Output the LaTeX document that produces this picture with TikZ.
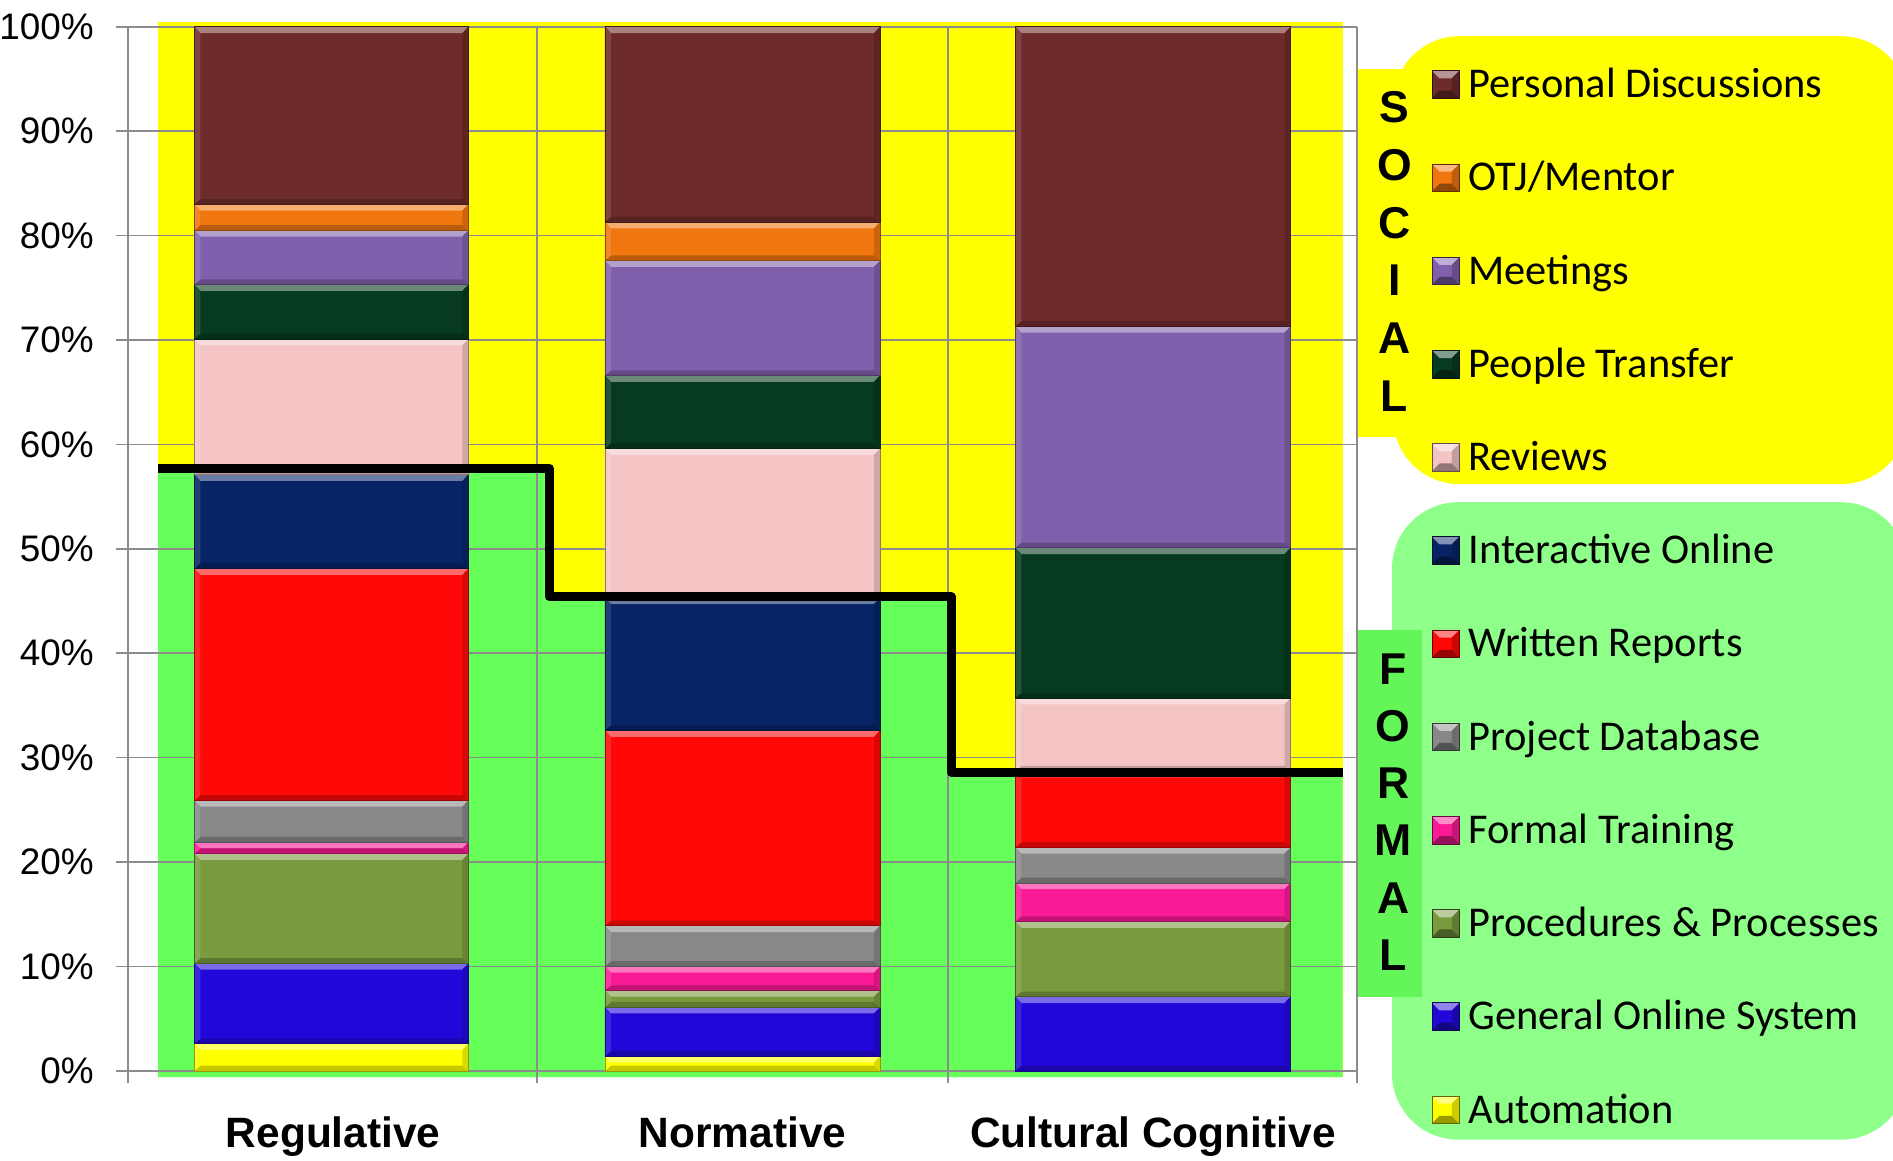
\documentclass[tikz,border=0pt]{standalone}
\usepackage{fontspec}
\setmainfont{Liberation Sans}
\newfontfamily\calfont{Carlito}
\usetikzlibrary{calc}
\definecolor{persdisc}{RGB}{110,43,43}
\definecolor{otjment}{RGB}{240,118,16}
\definecolor{meetings}{RGB}{128,96,172}
\definecolor{peoptrans}{RGB}{7,59,32}
\definecolor{reviews}{RGB}{244,196,196}
\definecolor{interonl}{RGB}{6,36,102}
\definecolor{writrep}{RGB}{255,8,8}
\definecolor{projdb}{RGB}{136,136,136}
\definecolor{formtrain}{RGB}{250,26,150}
\definecolor{procproc}{RGB}{122,154,62}
\definecolor{genonl}{RGB}{34,8,216}
\definecolor{automat}{RGB}{255,255,0}
\definecolor{plotyellow}{RGB}{255,255,0}
\definecolor{plotgreen}{RGB}{102,255,90}
\definecolor{leggreen}{RGB}{142,255,136}
\definecolor{labgreen}{RGB}{100,245,88}
\definecolor{gridgray}{RGB}{140,140,140}
% bevelled bar segment: x0, x1, bottom, top, colour
\newcommand{\barseg}[5]{%
  \fill[#5] (#1,#3) rectangle (#2,#4);
  \fill[#5!60!white] (#1,#4) -- (#2,#4) -- ++(-5,-0.6) -- ++({#1-#2+10},0) -- cycle;
  \fill[#5!78!black] (#1,#3) -- (#2,#3) -- ++(-5,0.5) -- ++({#1-#2+10},0) -- cycle;
  \fill[#5!88!white] (#1,#3) -- (#1,#4) -- ++(5,-0.6) -- ({#1+5},{#3+0.5}) -- cycle;
  \fill[#5!85!black] (#2,#3) -- (#2,#4) -- ++(-5,-0.6) -- ({#2-5},{#3+0.5}) -- cycle;
  \draw[#5!60!black, line width=0.3pt] (#1,#3) rectangle (#2,#4);
}
% bevelled legend key: centre x, centre y, colour
\newcommand{\legmark}[3]{%
  \fill[#3] ({#1-11.5},{#2-11.5}) rectangle ({#1+11.5},{#2+11.5});
  \fill[#3!50!white] ({#1-11.5},{#2+11.5}) -- ({#1+11.5},{#2+11.5}) -- ({#1+5},{#2+5}) -- ({#1-5},{#2+5}) -- cycle;
  \fill[#3!60!black] ({#1-11.5},{#2-11.5}) -- ({#1+11.5},{#2-11.5}) -- ({#1+5},{#2-5}) -- ({#1-5},{#2-5}) -- cycle;
  \fill[#3!80!black] ({#1+11.5},{#2-11.5}) -- ({#1+11.5},{#2+11.5}) -- ({#1+5},{#2+5}) -- ({#1+5},{#2-5}) -- cycle;
  \draw[#3!40!black, line width=0.3pt] ({#1-11.5},{#2-11.5}) rectangle ({#1+11.5},{#2+11.5});
}

\begin{document}
\begin{tikzpicture}[
    x=0.02cm, y=0.02cm,
    gridline/.style={draw=gridgray, line width=0.8pt},
    stepline/.style={draw=black, line width=4.3pt, line join=round},
    ticklabel/.style={anchor=east, inner sep=0pt, font=\fontsize{17.4}{20}\selectfont},
    catlabel/.style={anchor=base, inner sep=0pt, font=\bfseries\fontsize{20}{24}\selectfont},
    legtext/.style={anchor=base west, inner sep=0pt, font=\calfont\fontsize{20}{24}\selectfont},
    vlabel/.style={inner sep=0pt, font=\bfseries\fontsize{21}{24}\selectfont},
    legbox/.style={rounded corners=1.1cm}
]
    \useasboundingbox (0,0) rectangle (1568,961);
    \fill[white] (0,0) rectangle (1568,961);
    \clip (0,0) rectangle (1568,961);

    % plot area, y in percent
    \begin{scope}[yshift=1.48cm, y=0.173cm]
        \fill[plotyellow] (131,-0.6) rectangle (1112,100.5);
        \fill[plotgreen] (131,-0.6) -- (131,57.7) -- (455,57.7) -- (455,45.4) -- (788,45.4)
            -- (788,28.6) -- (1112,28.6) -- (1112,-0.6) -- cycle;

        \foreach \p in {0,10,...,100}{
            \draw[gridline] (96,\p) -- (1124,\p);
            \node[ticklabel, name=tick\p] at(78,\p) {\p\%};
        }
        \foreach \x in {106,445,785,1124}
            \draw[gridline] (\x,-1.2) -- (\x,100);

        \foreach \xa/\xb/\segs in {
            161/388/{automat/2.6,genonl/10.3,procproc/20.8,formtrain/21.9,projdb/25.9,writrep/48.1,interonl/57.1,reviews/70.1,peoptrans/75.3,meetings/80.5,otjment/83.0,persdisc/100},
            501/729/{automat/1.4,genonl/6.1,procproc/7.7,formtrain/10.0,projdb/13.9,writrep/32.6,interonl/45.3,reviews/59.6,peoptrans/66.6,meetings/77.6,otjment/81.3,persdisc/100},
            841/1069/{genonl/7.1,procproc/14.3,formtrain/18.0,projdb/21.4,writrep/28.7,reviews/35.7,peoptrans/50.1,meetings/71.3,persdisc/100}}
        {
            \foreach \c/\t [remember=\t as \b (initially 0)] in \segs
                \barseg{\xa}{\xb}{\b}{\t}{\c};
        }

        \draw[stepline] (131,57.7) -- (455,57.7) -- (455,45.4) -- (788,45.4) -- (788,28.6) -- (1112,28.6);

        \node[catlabel, name=regul] at(276,-7.3) {Regulative};
        \node[catlabel, name=norm] at(615,-7.3) {Normative};
        \node[catlabel, name=cultcog] at(955,-7.3) {Cultural Cognitive};
    \end{scope}

    % legend
    \fill[plotyellow, legbox] (1154,560) rectangle (1580,931);
    \fill[plotyellow] (1125,599) rectangle (1195,904);
    \fill[leggreen, legbox] (1153,17) rectangle (1580,545);
    \fill[labgreen] (1125,135) rectangle (1178,439);

    \foreach \l [count=\k from 0] in {S,O,C,I,A,L}
        \node[vlabel, name=soc\k] at(1155,{872-47.8*\k}) {\l};
    \foreach \l [count=\k from 0] in {F,O,R,M,A,L}
        \node[vlabel, name=form\k] at(1154,{407-47.4*\k}) {\l};

    \foreach \c/\txt [count=\k from 0] in {persdisc/Personal Discussions, otjment/{OTJ/Mentor},
        meetings/Meetings, peoptrans/People Transfer, reviews/Reviews, interonl/Interactive Online,
        writrep/Written Reports, projdb/Project Database, formtrain/Formal Training,
        procproc/Procedures \& Processes, genonl/General Online System, automat/Automation}
    {
        \legmark{1197.5}{891-77.2*\k}{\c}
        \node[legtext, name=leg\k] at(1216,{880-77.2*\k}) {\txt};
    }
\end{tikzpicture}
\end{document}
